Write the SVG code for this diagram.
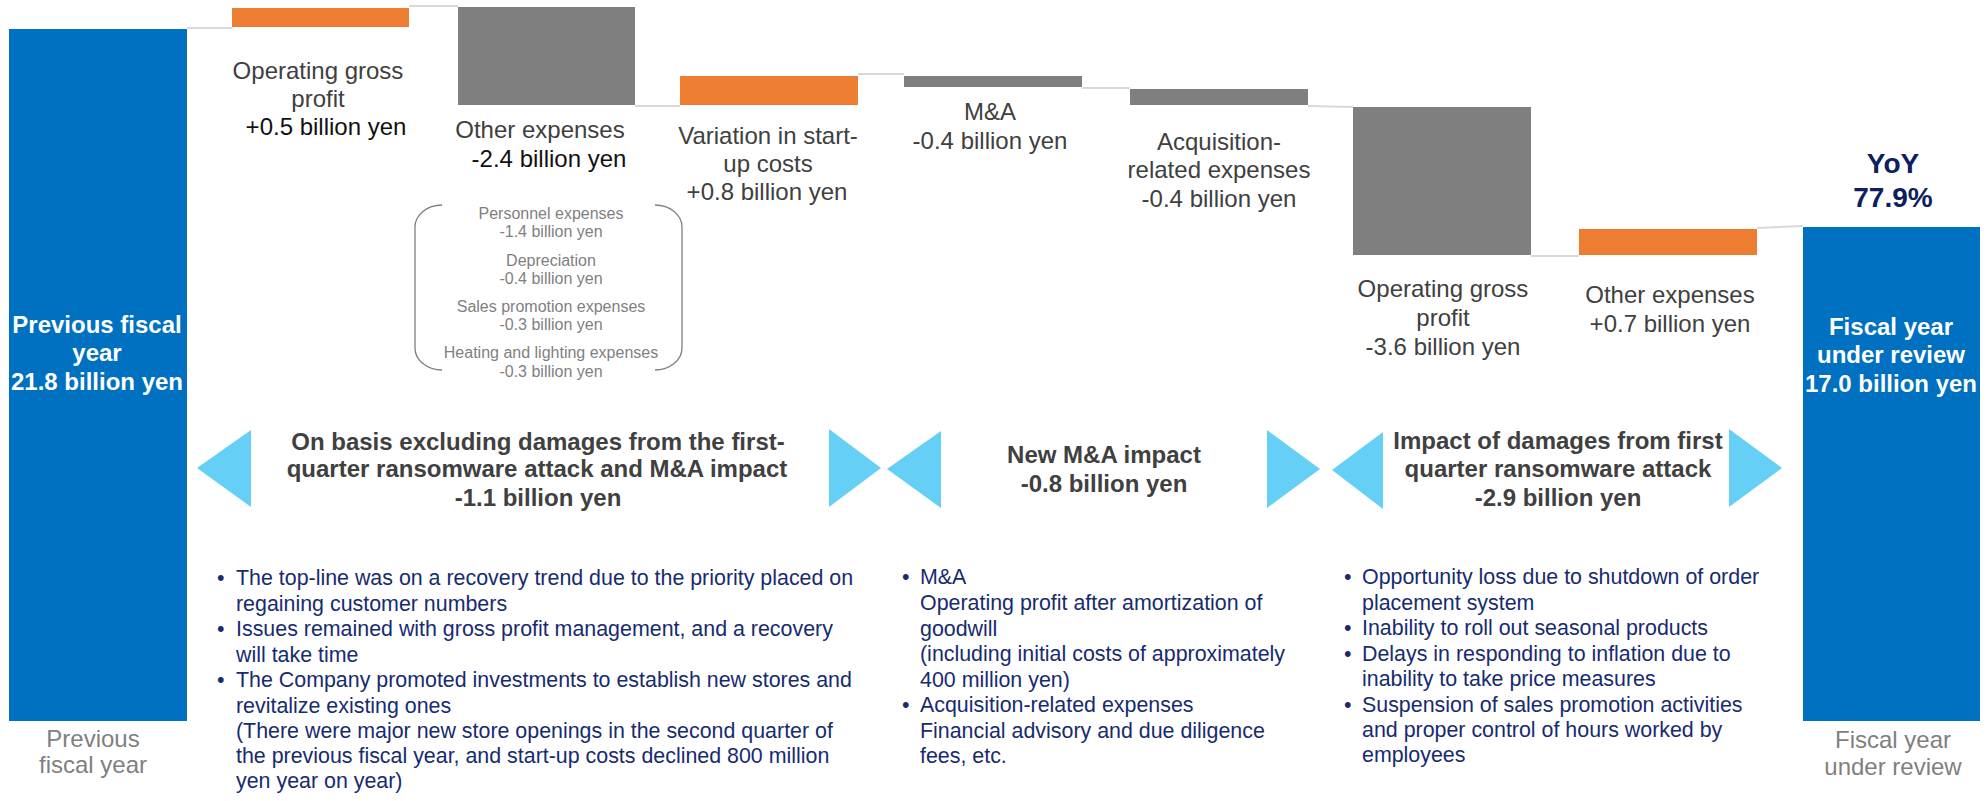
<svg xmlns="http://www.w3.org/2000/svg" width="1987" height="801" viewBox="0 0 1987 801">
<style>
.bg{fill:#ffffff}
.blue{fill:#0070C0}
.org{fill:#ED7D31}
.gry{fill:#7F7F7F}
.conn{stroke:#D9D9D9;stroke-width:2;fill:none}
.lbl{font-family:"Liberation Sans",Arial,sans-serif;font-size:24px;fill:#404040;text-anchor:middle}
.val{fill:#111111}
.wht{font-family:"Liberation Sans",Arial,sans-serif;font-size:24px;font-weight:bold;fill:#ffffff;text-anchor:middle}
.yoy{font-family:"Liberation Sans",Arial,sans-serif;font-size:28px;font-weight:bold;fill:#0D1F5E;text-anchor:middle}
.sub{font-family:"Liberation Sans",Arial,sans-serif;font-size:16px;fill:#7F7F7F;text-anchor:middle}
.brk{stroke:#7F7F7F;stroke-width:1.3;fill:none}
.tri{fill:#66CFF5}
.ttl{font-family:"Liberation Sans",Arial,sans-serif;font-size:24px;font-weight:bold;fill:#404040;text-anchor:middle}
.bul{font-family:"Liberation Sans",Arial,sans-serif;font-size:21.4px;fill:#172B6F}
.axis{font-family:"Liberation Sans",Arial,sans-serif;font-size:24px;fill:#7F7F7F;text-anchor:middle}
</style>
<rect class="bg" x="0" y="0" width="1987" height="801"/>

<g id="connectors">
<line class="conn" x1="187" y1="28" x2="232" y2="28"/>
<line class="conn" x1="409" y1="6" x2="458" y2="6"/>
<line class="conn" x1="635" y1="106" x2="680" y2="106"/>
<line class="conn" x1="858" y1="74" x2="904" y2="74"/>
<line class="conn" x1="1082" y1="88" x2="1130" y2="88"/>
<line class="conn" x1="1308" y1="106" x2="1353" y2="107"/>
<line class="conn" x1="1531" y1="256" x2="1579" y2="256"/>
<line class="conn" x1="1757" y1="228" x2="1803" y2="226"/>
</g>

<g id="prev-year">
<rect class="blue" x="9" y="29" width="178" height="692"/>
<text class="wht" x="97" y="333">Previous fiscal</text>
<text class="wht" x="97" y="361">year</text>
<text class="wht" x="97" y="390">21.8 billion yen</text>
<text class="axis" x="93" y="747">Previous</text>
<text class="axis" x="93" y="773">fiscal year</text>
</g>

<g id="op-gross-profit-1">
<rect class="org" x="232" y="8" width="177" height="19"/>
<text class="lbl" x="318" y="79">Operating gross</text>
<text class="lbl" x="318" y="107">profit</text>
<text class="lbl val" x="326" y="135">+0.5 billion yen</text>
</g>

<g id="other-expenses-1">
<rect class="gry" x="458" y="7" width="177" height="98"/>
<text class="lbl" x="540" y="138">Other expenses</text>
<text class="lbl val" x="549" y="167">-2.4 billion yen</text>
</g>

<g id="breakdown">
<path class="brk" d="M442,205 A27,22 0 0 0 415,227 V348 A27,22 0 0 0 442,370"/>
<path class="brk" d="M655,205 A27,22 0 0 1 682,227 V348 A27,22 0 0 1 655,370"/>
<text class="sub" x="551" y="219">Personnel expenses</text>
<text class="sub" x="551" y="237">-1.4 billion yen</text>
<text class="sub" x="551" y="266">Depreciation</text>
<text class="sub" x="551" y="284">-0.4 billion yen</text>
<text class="sub" x="551" y="312">Sales promotion expenses</text>
<text class="sub" x="551" y="330">-0.3 billion yen</text>
<text class="sub" x="551" y="358">Heating and lighting expenses</text>
<text class="sub" x="551" y="377">-0.3 billion yen</text>
</g>

<g id="startup-costs">
<rect class="org" x="680" y="76" width="178" height="29"/>
<text class="lbl" x="768" y="144">Variation in start-</text>
<text class="lbl" x="768" y="172">up costs</text>
<text class="lbl" x="767" y="200">+0.8 billion yen</text>
</g>

<g id="ma">
<rect class="gry" x="904" y="76" width="178" height="11"/>
<text class="lbl" x="990" y="120">M&amp;A</text>
<text class="lbl" x="990" y="149">-0.4 billion yen</text>
</g>

<g id="acquisition">
<rect class="gry" x="1130" y="89" width="178" height="16"/>
<text class="lbl" x="1219" y="150">Acquisition-</text>
<text class="lbl" x="1219" y="178">related expenses</text>
<text class="lbl" x="1219" y="207">-0.4 billion yen</text>
</g>

<g id="op-gross-profit-2">
<rect class="gry" x="1353" y="107" width="178" height="148"/>
<text class="lbl" x="1443" y="297">Operating gross</text>
<text class="lbl" x="1443" y="326">profit</text>
<text class="lbl" x="1443" y="355">-3.6 billion yen</text>
</g>

<g id="other-expenses-2">
<rect class="org" x="1579" y="229" width="178" height="26"/>
<text class="lbl" x="1670" y="303">Other expenses</text>
<text class="lbl" x="1670" y="332">+0.7 billion yen</text>
</g>

<g id="current-year">
<rect class="blue" x="1803" y="227" width="177" height="494"/>
<text class="yoy" x="1893" y="173">YoY</text>
<text class="yoy" x="1893" y="207">77.9%</text>
<text class="wht" x="1891" y="335">Fiscal year</text>
<text class="wht" x="1891" y="363">under review</text>
<text class="wht" x="1891" y="392">17.0 billion yen</text>
<text class="axis" x="1893" y="748">Fiscal year</text>
<text class="axis" x="1893" y="775">under review</text>
</g>

<g id="range-excluding">
<polygon class="tri" points="251,430 251,507 197,468"/>
<polygon class="tri" points="829,429 829,507 881,468"/>
<text class="ttl" x="538" y="450">On basis excluding damages from the first-</text>
<text class="ttl" x="537" y="477">quarter ransomware attack and M&amp;A impact</text>
<text class="ttl" x="538" y="506">-1.1 billion yen</text>
</g>

<g id="range-ma">
<polygon class="tri" points="941,431 941,508 887,469"/>
<polygon class="tri" points="1267,430 1267,508 1320,469"/>
<text class="ttl" x="1104" y="463">New M&amp;A impact</text>
<text class="ttl" x="1104" y="492">-0.8 billion yen</text>
</g>

<g id="range-ransomware">
<polygon class="tri" points="1383,432 1383,509 1332,470"/>
<polygon class="tri" points="1729,429 1729,507 1782,468"/>
<text class="ttl" x="1558" y="449">Impact of damages from first</text>
<text class="ttl" x="1558" y="477">quarter ransomware attack</text>
<text class="ttl" x="1558" y="506">-2.9 billion yen</text>
</g>

<g id="notes-excluding">
<text class="bul" x="217" y="585">•</text>
<text class="bul" x="236" y="585">The top-line was on a recovery trend due to the priority placed on</text>
<text class="bul" x="236" y="611">regaining customer numbers</text>
<text class="bul" x="217" y="636">•</text>
<text class="bul" x="236" y="636">Issues remained with gross profit management, and a recovery</text>
<text class="bul" x="236" y="662">will take time</text>
<text class="bul" x="217" y="687">•</text>
<text class="bul" x="236" y="687">The Company promoted investments to establish new stores and</text>
<text class="bul" x="236" y="713">revitalize existing ones</text>
<text class="bul" x="236" y="738">(There were major new store openings in the second quarter of</text>
<text class="bul" x="236" y="763">the previous fiscal year, and start-up costs declined 800 million</text>
<text class="bul" x="236" y="788">yen year on year)</text>
</g>

<g id="notes-ma">
<text class="bul" x="902" y="584">•</text>
<text class="bul" x="920" y="584">M&amp;A</text>
<text class="bul" x="920" y="610">Operating profit after amortization of</text>
<text class="bul" x="920" y="636">goodwill</text>
<text class="bul" x="920" y="661">(including initial costs of approximately</text>
<text class="bul" x="920" y="687">400 million yen)</text>
<text class="bul" x="902" y="712">•</text>
<text class="bul" x="920" y="712">Acquisition-related expenses</text>
<text class="bul" x="920" y="738">Financial advisory and due diligence</text>
<text class="bul" x="920" y="763">fees, etc.</text>
</g>

<g id="notes-ransomware">
<text class="bul" x="1344" y="584">•</text>
<text class="bul" x="1362" y="584">Opportunity loss due to shutdown of order</text>
<text class="bul" x="1362" y="610">placement system</text>
<text class="bul" x="1344" y="635">•</text>
<text class="bul" x="1362" y="635">Inability to roll out seasonal products</text>
<text class="bul" x="1344" y="661">•</text>
<text class="bul" x="1362" y="661">Delays in responding to inflation due to</text>
<text class="bul" x="1362" y="686">inability to take price measures</text>
<text class="bul" x="1344" y="712">•</text>
<text class="bul" x="1362" y="712">Suspension of sales promotion activities</text>
<text class="bul" x="1362" y="737">and proper control of hours worked by</text>
<text class="bul" x="1362" y="762">employees</text>
</g>
</svg>
